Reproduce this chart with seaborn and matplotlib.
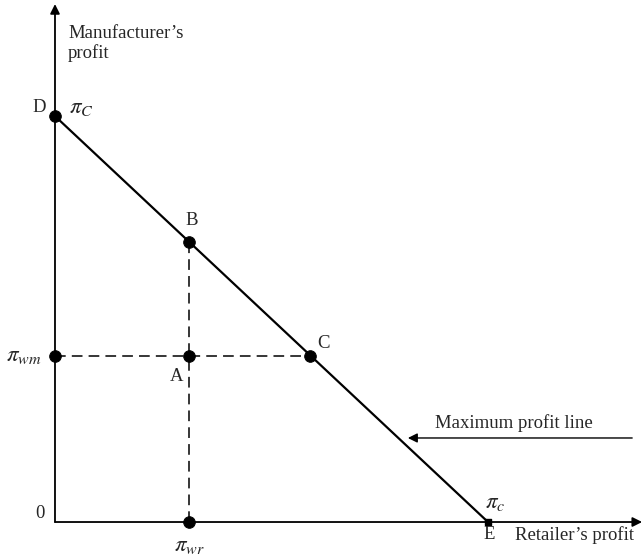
import pandas as pd
import numpy as np
import matplotlib
matplotlib.use("Agg")
import matplotlib.pyplot as plt
import seaborn as sns

# ----------------------------------------------------------
# DATA (profit units, pi_c = 10)
# ----------------------------------------------------------

pi_c = 10.0
pi_wr = 3.1
pi_wm = 4.1

frontier_x = [0.0, pi_c]          # D -> E
frontier_y = [pi_c, 0.0]

point_names = ["D", "B", "C", "A", "pi_wm", "pi_wr"]
point_x = [0.0, pi_wr, pi_c - pi_wm, pi_wr, 0.0, pi_wr]
point_y = [pi_c, pi_c - pi_wr, pi_wm, pi_wm, pi_wm, 0.0]

# ----------------------------------------------------------
# STYLE
# ----------------------------------------------------------

sns.set_style("white")
plt.rcParams['font.family'] = ['Liberation Serif', 'DejaVu Serif']
plt.rcParams['mathtext.fontset'] = 'stix'

fig = plt.figure(figsize=(6.43, 5.57), dpi=100)
ax = fig.add_axes([0, 0, 1, 1])
ax.set_xlim(-1.27, 13.58)
ax.set_ylim(-0.862, 12.86)
ax.axis('off')

fs = 13.5

# ----------------------------------------------------------
# AXES WITH ARROWS
# ----------------------------------------------------------

ax.annotate("", xy=(13.56, 0), xytext=(0, 0),
            arrowprops=dict(arrowstyle='-|>', color='black', lw=1.3,
                            mutation_scale=14, shrinkA=0, shrinkB=0))
ax.annotate("", xy=(0, 12.76), xytext=(0, 0),
            arrowprops=dict(arrowstyle='-|>', color='black', lw=1.3,
                            mutation_scale=14, shrinkA=0, shrinkB=0))

# ----------------------------------------------------------
# MAXIMUM PROFIT LINE AND DASHED GUIDES
# ----------------------------------------------------------

line_df = pd.DataFrame({'x': frontier_x, 'y': frontier_y})
sns.lineplot(data=line_df, x='x', y='y', color='black', lw=1.6, ax=ax,
             sort=False)

ax.plot([pi_wr, pi_wr], [0, pi_c - pi_wr], color='black', lw=1.1,
        dashes=(7, 4))
ax.plot([0, pi_c - pi_wm], [pi_wm, pi_wm], color='black', lw=1.1,
        dashes=(7, 4))

pts = pd.DataFrame({'name': point_names, 'x': point_x, 'y': point_y})
sns.scatterplot(data=pts, x='x', y='y', color='black', s=70,
                edgecolor='black', zorder=5, ax=ax, legend=False)
ax.scatter([pi_c], [0], marker='s', s=22, color='black', zorder=5)

ax.set_xlabel("")
ax.set_ylabel("")

# ----------------------------------------------------------
# LABELS
# ----------------------------------------------------------

ax.text(0.3, 12.25, "Manufacturer\u2019s\nprofit", fontsize=fs, ha='left',
        va='top', linespacing=1.15)
ax.text(10.62, -0.32, "Retailer\u2019s profit", fontsize=fs, ha='left',
        va='center')

ax.text(-0.37, 10.2, "D", fontsize=fs, ha='center', va='center')
ax.text(0.33, 10.2, r"$\pi_C$", fontsize=fs + 3, ha='left', va='center')
ax.text(pi_wr + 0.05, pi_c - pi_wr + 0.52, "B", fontsize=fs, ha='center',
        va='center')
ax.text(pi_c - pi_wm + 0.3, pi_wm + 0.31, "C", fontsize=fs, ha='center',
        va='center')
ax.text(pi_wr - 0.3, pi_wm - 0.52, "A", fontsize=fs, ha='center',
        va='center')
ax.text(-0.72, pi_wm, r"$\pi_{wm}$", fontsize=fs + 3, ha='center',
        va='center')
ax.text(pi_wr, -0.57, r"$\pi_{wr}$", fontsize=fs + 3, ha='center',
        va='center')
ax.text(-0.35, 0.2, "0", fontsize=fs, ha='center', va='center')
ax.text(pi_c + 0.16, 0.47, r"$\pi_c$", fontsize=fs + 3, ha='center',
        va='center')
ax.text(pi_c + 0.02, -0.32, "E", fontsize=fs, ha='center', va='center')

ax.annotate("", xy=(8.15, 2.07), xytext=(13.33, 2.07),
            arrowprops=dict(arrowstyle='-|>', color='black', lw=1.0,
                            mutation_scale=14, shrinkA=0, shrinkB=0))
ax.text(10.6, 2.44, "Maximum profit line", fontsize=fs, ha='center',
        va='center')

fig.savefig("out.png", dpi=100)
